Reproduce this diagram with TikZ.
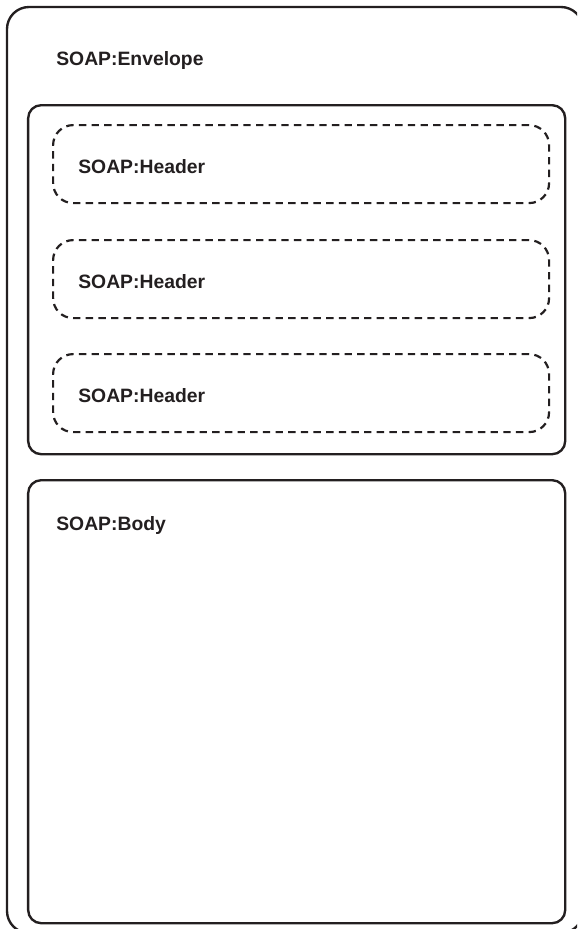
\documentclass[tikz,border=0pt]{standalone}
\usepackage{fontspec}
\setmainfont{Liberation Sans}
\usepackage{tikz}
\usetikzlibrary{positioning}
\definecolor{ink}{HTML}{231F20}

\begin{document}
\begin{tikzpicture}[
  every node/.style={font=\bfseries\fontsize{11}{13}\selectfont, text=ink},
  outerbox/.style={draw=ink, line width=1.35pt, rounded corners=0.44cm, inner sep=0pt},
  partbox/.style={draw=ink, line width=1.35pt, rounded corners=0.26cm, inner sep=0pt,
    anchor=north west, minimum width=10.74cm},
  hdrbox/.style={draw=ink, line width=1.25pt, dash pattern=on 4.2pt off 3pt,
    rounded corners=0.4cm, inner sep=0pt, anchor=north west,
    minimum width=9.92cm, minimum height=1.56cm},
  lbl/.style={anchor=base west, inner sep=0pt}
]
\useasboundingbox (0,0) rectangle (11.54,-18.58);
\clip (0,0) rectangle (11.54,-18.58);
% envelope, runs past the page on the right and bottom
\draw[outerbox] (0.14,-0.14) rectangle (11.66,-18.66);
\node[lbl] (envlbl) at (1.12,-1.30) {SOAP:Envelope};
% header block
\node[partbox, minimum height=6.98cm] (hdrs) at (0.54,-2.08) {};
\node[hdrbox] (hdr1) at (1.04,-2.48) {};
\node[hdrbox] (hdr2) at (1.04,-4.78) {};
\node[hdrbox] (hdr3) at (1.04,-7.06) {};
\node[lbl] (hdrlbl1) at (1.56,-3.46) {SOAP:Header};
\node[lbl] (hdrlbl2) at (1.56,-5.76) {SOAP:Header};
\node[lbl] (hdrlbl3) at (1.56,-8.04) {SOAP:Header};
% body block
\node[partbox, minimum height=8.86cm] (body) at (0.54,-9.58) {};
\node[lbl] (bodylbl) at (1.12,-10.60) {SOAP:Body};
\end{tikzpicture}
\end{document}
